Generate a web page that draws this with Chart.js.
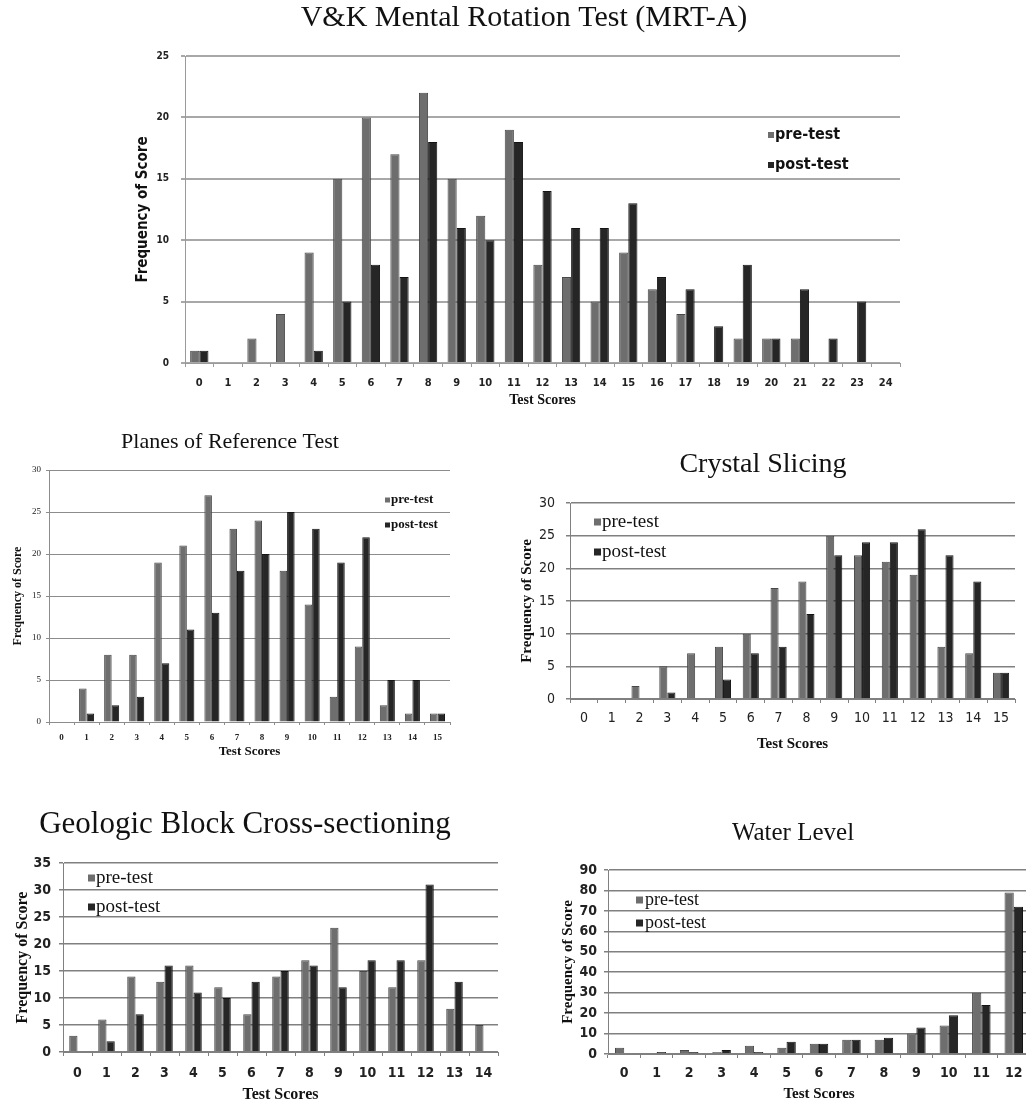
<!DOCTYPE html>
<html><head><meta charset="utf-8">
<script src="https://cdn.jsdelivr.net/npm/chart.js@4.4.1/dist/chart.umd.min.js"></script>
<style>
html,body{margin:0;padding:0;background:#fff;overflow:hidden;width:1026px;height:1104px;position:relative}
canvas{position:absolute;display:block}
</style></head><body>
<canvas id="c1"></canvas><canvas id="c2"></canvas><canvas id="c3"></canvas><canvas id="c4"></canvas><canvas id="c5"></canvas>
<script>
// ---------------- DATA ----------------
const seriesNames = ['pre-test', 'post-test'];
const yAxisTitle = 'Frequency of Score';
const xAxisTitle = 'Test Scores';

const mrtTitle = 'V&K Mental Rotation Test (MRT-A)';
const mrtCategories = ['0','1','2','3','4','5','6','7','8','9','10','11','12','13','14','15','16','17','18','19','20','21','22','23','24'];
const mrtPre  = [1,0,2,4,9,15,20,17,22,15,12,19,8,7,5,9,6,4,0,2,2,2,0,0,0];
const mrtPost = [1,0,0,0,1,5,8,7,18,11,10,18,14,11,11,13,7,6,3,8,2,6,2,5,0];

const planesTitle = 'Planes of Reference Test';
const planesCategories = ['0','1','2','3','4','5','6','7','8','9','10','11','12','13','14','15'];
const planesPre  = [0,4,8,8,19,21,27,23,24,18,14,3,9,2,1,1];
const planesPost = [0,1,2,3,7,11,13,18,20,25,23,19,22,5,5,1];

const crystalTitle = 'Crystal Slicing';
const crystalCategories = ['0','1','2','3','4','5','6','7','8','9','10','11','12','13','14','15'];
const crystalPre  = [0,0,2,5,7,8,10,17,18,25,22,21,19,8,7,4];
const crystalPost = [0,0,0,1,0,3,7,8,13,22,24,24,26,22,18,4];

const geoTitle = 'Geologic Block Cross-sectioning';
const geoCategories = ['0','1','2','3','4','5','6','7','8','9','10','11','12','13','14'];
const geoPre  = [3,6,14,13,16,12,7,14,17,23,15,12,17,8,5];
const geoPost = [0,2,7,16,11,10,13,15,16,12,17,17,31,13,0];

const waterTitle = 'Water Level';
const waterCategories = ['0','1','2','3','4','5','6','7','8','9','10','11','12'];
const waterPre  = [3,0,2,1,4,3,5,7,7,10,14,30,79];
const waterPost = [0,1,1,2,1,6,5,7,8,13,19,24,72];

// ---------------- STYLE ----------------
const SERIF = "'Liberation Serif','DejaVu Serif',serif";
const NARROW = "'Liberation Sans Narrow','DejaVu Sans Condensed','Liberation Sans',sans-serif";
const PRE_COLOR = '#6e6e6e', PRE_BORDER = '#484848';
const POST_COLOR = '#262626', POST_BORDER = '#141414';

function makeChart(id, cats, pre, post, titleText, s) {
  const cv = document.getElementById(id);
  cv.width = s.W; cv.height = s.H;
  cv.style.left = s.L + 'px'; cv.style.top = s.T + 'px';
  const lh = (f) => f.size * 1.2;
  const extras = {
    id: 'extras' + id,
    afterDraw(chart) {
      const ctx = chart.ctx;
      ctx.save();
      ctx.fillStyle = '#111';
      ctx.font = s.title.size + 'px ' + SERIF;
      ctx.textAlign = 'center'; ctx.textBaseline = 'middle';
      ctx.fillText(titleText, s.title.x - s.L, s.title.y - s.T);
      chart.data.datasets.forEach((ds, i) => {
        const y = s.legend.ys[i] - s.T;
        const b = s.legend.box;
        ctx.fillStyle = ds.backgroundColor;
        ctx.fillRect(s.legend.x - s.L, y - b / 2, b, b);
        ctx.fillStyle = '#111';
        ctx.font = s.legend.font;
        ctx.textAlign = 'left'; ctx.textBaseline = 'middle';
        ctx.fillText(ds.label, s.legend.tx - s.L, y);
      });
      ctx.restore();
    }
  };
  return new Chart(cv, {
    type: 'bar',
    data: {
      labels: cats,
      datasets: [
        { label: seriesNames[0], data: pre, backgroundColor: PRE_COLOR, borderColor: PRE_BORDER, borderWidth: 1,
          categoryPercentage: s.catPct, barPercentage: 1 },
        { label: seriesNames[1], data: post, backgroundColor: POST_COLOR, borderColor: POST_BORDER, borderWidth: 1,
          categoryPercentage: s.catPct, barPercentage: 1 }
      ]
    },
    options: {
      responsive: false, animation: false, devicePixelRatio: 1,
      layout: { padding: { left: 0, top: s.plot.t - s.T, right: (s.L + s.W) - s.plot.r, bottom: 0 } },
      plugins: { legend: { display: false }, tooltip: { enabled: false }, title: { display: false } },
      scales: {
        x: {
          offset: true,
          grid: { offset: true, drawOnChartArea: false, drawTicks: true, tickLength: s.tick, color: s.axisColor, lineWidth: 1 },
          border: { display: true, color: s.axisColor, width: s.axisWidth },
          ticks: { font: s.xTickFont, color: '#222', maxRotation: 0, autoSkip: false,
                   padding: s.xTickY - s.plot.b - s.tick - lh(s.xTickFont) / 2 },
          title: { display: true, text: xAxisTitle, font: s.xTitleFont, color: '#111',
                   padding: { top: 0, bottom: (s.T + s.H) - s.xTitleY - lh(s.xTitleFont) / 2 } },
          afterFit(sc) { sc.height = (s.T + s.H) - s.plot.b; }
        },
        y: {
          min: 0, max: s.yMax,
          ticks: { stepSize: s.yStep, font: s.yTickFont, color: '#222', padding: s.plot.l - s.tick - s.yTickRight },
          grid: { color: s.gridColor, lineWidth: s.gridWidth, drawTicks: true, tickLength: s.tick },
          border: { display: true, color: s.axisColor, width: s.axisWidth },
          title: { display: true, text: yAxisTitle, font: s.yTitleFont, color: '#111',
                   padding: { top: (s.yTitleX - s.L) - lh(s.yTitleFont) / 2, bottom: 0 } },
          afterFit(sc) { sc.width = s.plot.l - s.L; }
        }
      }
    },
    plugins: [extras]
  });
}

// ---------------- LAYOUT ----------------
makeChart('c1', mrtCategories, mrtPre, mrtPost, mrtTitle, {
  L: 120, T: 0, W: 790, H: 415,
  plot: { l: 185, r: 900, t: 56, b: 363 },
  yMax: 25, yStep: 5, catPct: 0.64, tick: 4,
  gridColor: '#a8a8a8', gridWidth: 2, axisColor: '#9a9a9a', axisWidth: 1,
  yTickFont: { family: NARROW, size: 10, weight: 'bold' }, yTickRight: 169,
  xTickFont: { family: NARROW, size: 11, weight: 'bold' }, xTickY: 383,
  yTitleFont: { family: NARROW, size: 15, weight: 'bold' }, yTitleX: 143,
  xTitleFont: { family: SERIF, size: 14, weight: 'bold' }, xTitleY: 400,
  title: { x: 524, y: 18, size: 30 },
  legend: { x: 768, tx: 775, ys: [135, 165], box: 6, font: 'bold 16px ' + NARROW }
});

makeChart('c2', planesCategories, planesPre, planesPost, planesTitle, {
  L: 0, T: 425, W: 460, H: 335,
  plot: { l: 49, r: 450, t: 470, b: 722 },
  yMax: 30, yStep: 5, catPct: 0.6, tick: 3,
  gridColor: '#8c8c8c', gridWidth: 1, axisColor: '#8c8c8c', axisWidth: 1,
  yTickFont: { family: SERIF, size: 9 }, yTickRight: 41,
  xTickFont: { family: SERIF, size: 9, weight: 'bold' }, xTickY: 738,
  yTitleFont: { family: SERIF, size: 12, weight: 'bold' }, yTitleX: 18,
  xTitleFont: { family: SERIF, size: 13, weight: 'bold' }, xTitleY: 752,
  title: { x: 230, y: 442, size: 22 },
  legend: { x: 385, tx: 391, ys: [500, 525], box: 5, font: 'bold 13px ' + SERIF }
});

makeChart('c3', crystalCategories, crystalPre, crystalPost, crystalTitle, {
  L: 500, T: 440, W: 526, H: 318,
  plot: { l: 570, r: 1015, t: 503, b: 699 },
  yMax: 30, yStep: 5, catPct: 0.58, tick: 4,
  gridColor: '#808080', gridWidth: 1.5, axisColor: '#808080', axisWidth: 1,
  yTickFont: { family: NARROW, size: 14 }, yTickRight: 555,
  xTickFont: { family: NARROW, size: 14 }, xTickY: 718,
  yTitleFont: { family: SERIF, size: 15, weight: 'bold' }, yTitleX: 527,
  xTitleFont: { family: SERIF, size: 15, weight: 'bold' }, xTitleY: 744,
  title: { x: 763, y: 465, size: 28 },
  legend: { x: 594, tx: 602, ys: [522, 552], box: 7, font: '19px ' + SERIF }
});

makeChart('c4', geoCategories, geoPre, geoPost, geoTitle, {
  L: 0, T: 800, W: 505, H: 310,
  plot: { l: 63, r: 498, t: 863, b: 1052 },
  yMax: 35, yStep: 5, catPct: 0.57, tick: 4,
  gridColor: '#808080', gridWidth: 1.5, axisColor: '#808080', axisWidth: 1,
  yTickFont: { family: NARROW, size: 14, weight: 'bold' }, yTickRight: 51,
  xTickFont: { family: NARROW, size: 14, weight: 'bold' }, xTickY: 1073,
  yTitleFont: { family: SERIF, size: 16, weight: 'bold' }, yTitleX: 23,
  xTitleFont: { family: SERIF, size: 16, weight: 'bold' }, xTitleY: 1095,
  title: { x: 245, y: 825, size: 31 },
  legend: { x: 88, tx: 96, ys: [878, 907], box: 7, font: '19px ' + SERIF }
});

makeChart('c5', waterCategories, waterPre, waterPost, waterTitle, {
  L: 545, T: 810, W: 490, H: 300,
  plot: { l: 608, r: 1030, t: 870, b: 1054 },
  yMax: 90, yStep: 10, catPct: 0.57, tick: 4,
  gridColor: '#808080', gridWidth: 1.5, axisColor: '#808080', axisWidth: 1,
  yTickFont: { family: NARROW, size: 14, weight: 'bold' }, yTickRight: 597,
  xTickFont: { family: NARROW, size: 14, weight: 'bold' }, xTickY: 1073,
  yTitleFont: { family: SERIF, size: 15, weight: 'bold' }, yTitleX: 568,
  xTitleFont: { family: SERIF, size: 15, weight: 'bold' }, xTitleY: 1094,
  title: { x: 793, y: 833, size: 25 },
  legend: { x: 636, tx: 645, ys: [900, 923], box: 7, font: '18px ' + SERIF }
});
</script>
</body></html>
